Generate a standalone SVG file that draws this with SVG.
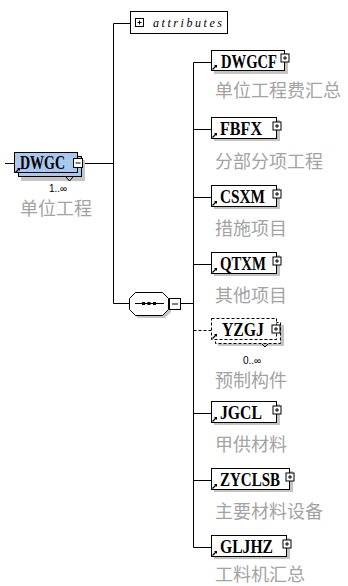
<svg xmlns="http://www.w3.org/2000/svg" xmlns:xlink="http://www.w3.org/1999/xlink" width="348" height="586" viewBox="0 0 348 586">
<style>
.bg{fill:#ffffff}
.ln{fill:none;stroke:#000;stroke-width:1}
.dash{fill:none;stroke:#000;stroke-width:1;stroke-dasharray:3,2}
.box{fill:#fff;stroke:#000;stroke-width:1}
.dbox{fill:#fff;stroke:#000;stroke-width:1;stroke-dasharray:3,2}
.rbox{fill:#a9c8ee;stroke:#000;stroke-width:1}
.sh{fill:#c4c4c4}
.pm{fill:#fff;stroke:#000;stroke-width:1}
.name{font-family:"Liberation Serif","DejaVu Serif",serif;font-weight:bold;font-size:18px;fill:#000}
.lbl{font-family:"Noto Sans CJK SC","Noto Sans",sans-serif;font-size:18px;fill:#a3a3a3}
.card{font-family:"Liberation Sans","DejaVu Sans",sans-serif;font-size:10px;fill:#000}
.attr{font-family:"Liberation Serif","DejaVu Serif",serif;font-style:italic;font-size:12px;fill:#000}
</style>
<defs>
<g id="ref">
<path d="M0.5 5.5 L4 2" stroke="#000" stroke-width="1.2" fill="none"/>
<path d="M2 1 L5 1 L5 4 Z" fill="#000"/>
</g>
<g id="plus">
<rect class="pm" x="0.5" y="0.5" width="8" height="8"/>
<path d="M2.5 4.5 H6.5 M4.5 2.5 V6.5" stroke="#000" stroke-width="1" fill="none"/>
</g>
</defs>
<rect class="bg" x="0" y="0" width="348" height="586"/>

<g id="connectors">
<path class="ln" d="M5 163.5 H14"/>
<path class="ln" d="M83 163.5 H113.5"/>
<path class="ln" d="M113.5 23.5 V303.5"/>
<path class="ln" d="M113.5 23.5 H130"/>
<path class="ln" d="M113.5 303.5 H129"/>
<path class="ln" d="M181 303.5 H193.5"/>
<path class="ln" d="M193.5 62.5 V547.5"/>
<path class="ln" d="M193.5 62.5 H211"/>
<path class="ln" d="M193.5 129.5 H211"/>
<path class="ln" d="M193.5 197.5 H211"/>
<path class="ln" d="M193.5 264.5 H211"/>
<path class="dash" d="M193.5 330.5 H211"/>
<path class="ln" d="M193.5 413.5 H211"/>
<path class="ln" d="M193.5 480.5 H211"/>
<path class="ln" d="M193.5 547.5 H211"/>
</g>

<g id="root">
<rect class="sh" x="21" y="160" width="64" height="21"/>
<rect class="rbox" x="18.5" y="156.5" width="63" height="20"/>
<rect class="rbox" x="14.5" y="152.5" width="63" height="20"/>
<use xlink:href="#ref" x="15" y="167"/>
<text class="name" x="20" y="169" textLength="45" lengthAdjust="spacingAndGlyphs">DWGC</text>
<rect class="pm" x="73.5" y="158.5" width="9" height="9"/>
<path d="M75.5 163 H80.5" stroke="#000" stroke-width="1"/>
<path d="M66 177 L69.5 181 L73 177" fill="none" stroke="#000" stroke-width="1"/>
<text class="card" x="58" y="192" text-anchor="middle">1..∞</text>
<text class="lbl" x="20" y="214.5">单位工程</text>
</g>

<g id="attributes">
<rect class="box" x="130.5" y="11.5" width="97" height="22"/>
<use xlink:href="#plus" x="135" y="18"/>
<text class="attr" x="153" y="26.5" textLength="69" lengthAdjust="spacing">attributes</text>
</g>

<g id="sequence">
<polygon class="sh" points="138,295 165,295 171,301 171,312 165,318 138,318 132,312 132,301"/>
<polygon class="box" points="135.5,292.5 162.5,292.5 168.5,298.5 168.5,309.5 162.5,315.5 135.5,315.5 129.5,309.5 129.5,298.5"/>
<path d="M135 303.5 H164" stroke="#000" stroke-width="1"/>
<rect x="142" y="302" width="3" height="3" fill="#000"/>
<rect x="147.5" y="302" width="3" height="3" fill="#000"/>
<rect x="153" y="302" width="3" height="3" fill="#000"/>
<rect class="pm" x="169.5" y="298.5" width="11" height="11"/>
<path d="M172 304 H178" stroke="#000" stroke-width="1"/>
</g>

<g id="DWGCF">
<rect class="sh" x="214" y="53" width="74" height="21"/>
<rect class="box" x="211.5" y="50.5" width="73" height="20"/>
<use xlink:href="#ref" x="212" y="64"/>
<text class="name" x="221" y="68" textLength="56" lengthAdjust="spacingAndGlyphs">DWGCF</text>
<use xlink:href="#plus" x="280.5" y="53.5"/>
<text class="lbl" x="215" y="97">单位工程费汇总</text>
</g>

<g id="FBFX">
<rect class="sh" x="214" y="120" width="66" height="21"/>
<rect class="box" x="211.5" y="117.5" width="65" height="21"/>
<use xlink:href="#ref" x="212" y="132"/>
<text class="name" x="220" y="135" textLength="42" lengthAdjust="spacingAndGlyphs">FBFX</text>
<use xlink:href="#plus" x="272.5" y="121.5"/>
<text class="lbl" x="215" y="168">分部分项工程</text>
</g>

<g id="CSXM">
<rect class="sh" x="214" y="188" width="66" height="21"/>
<rect class="box" x="211.5" y="185.5" width="65" height="21"/>
<use xlink:href="#ref" x="212" y="200"/>
<text class="name" x="220" y="203" textLength="45" lengthAdjust="spacingAndGlyphs">CSXM</text>
<use xlink:href="#plus" x="272.5" y="189.5"/>
<text class="lbl" x="215" y="235">措施项目</text>
</g>

<g id="QTXM">
<rect class="sh" x="214" y="255" width="66" height="21"/>
<rect class="box" x="211.5" y="252.5" width="65" height="21"/>
<use xlink:href="#ref" x="212" y="267"/>
<text class="name" x="220" y="270" textLength="46" lengthAdjust="spacingAndGlyphs">QTXM</text>
<use xlink:href="#plus" x="272.5" y="256.5"/>
<text class="lbl" x="215" y="302">其他项目</text>
</g>

<g id="YZGJ">
<rect class="sh" x="218" y="325" width="66" height="21"/>
<rect class="dbox" x="215.5" y="322.5" width="65" height="21"/>
<rect class="dbox" x="211.5" y="318.5" width="65" height="21"/>
<use xlink:href="#ref" x="212" y="333"/>
<text class="name" x="222" y="336" textLength="42" lengthAdjust="spacingAndGlyphs">YZGJ</text>
<use xlink:href="#plus" x="271.5" y="324.5"/>
<path d="M262 344 L265 347 L268 344" fill="none" stroke="#000" stroke-width="1"/>
<text class="card" x="252" y="364" text-anchor="middle">0..∞</text>
<text class="lbl" x="215" y="387">预制构件</text>
</g>

<g id="JGCL">
<rect class="sh" x="214" y="404" width="66" height="21"/>
<rect class="box" x="211.5" y="401.5" width="65" height="21"/>
<use xlink:href="#ref" x="212" y="416"/>
<text class="name" x="220" y="419" textLength="42" lengthAdjust="spacingAndGlyphs">JGCL</text>
<use xlink:href="#plus" x="272.5" y="405.5"/>
<text class="lbl" x="215" y="451">甲供材料</text>
</g>

<g id="ZYCLSB">
<rect class="sh" x="214" y="471" width="79" height="21"/>
<rect class="box" x="211.5" y="468.5" width="78" height="21"/>
<use xlink:href="#ref" x="212" y="483"/>
<text class="name" x="220" y="486" textLength="60" lengthAdjust="spacingAndGlyphs">ZYCLSB</text>
<use xlink:href="#plus" x="285.5" y="472.5"/>
<text class="lbl" x="215" y="518">主要材料设备</text>
</g>

<g id="GLJHZ">
<rect class="sh" x="214" y="538" width="76" height="21"/>
<rect class="box" x="211.5" y="535.5" width="75" height="21"/>
<use xlink:href="#ref" x="212" y="550"/>
<text class="name" x="220" y="553" textLength="53" lengthAdjust="spacingAndGlyphs">GLJHZ</text>
<use xlink:href="#plus" x="282.5" y="539.5"/>
<text class="lbl" x="215" y="581">工料机汇总</text>
</g>
</svg>
